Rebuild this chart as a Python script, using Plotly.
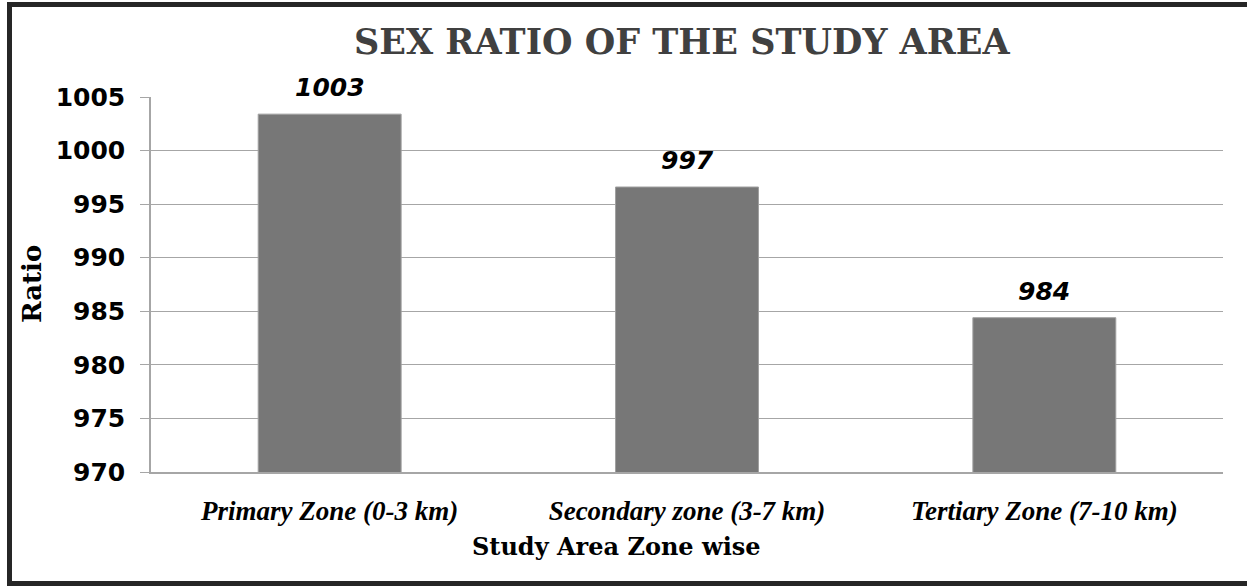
import plotly.graph_objects as go

# Sex ratio (females per 1000 males) by distance zone
zones = ["Primary Zone (0-3 km)", "Secondary zone (3-7 km)", "Tertiary Zone (7-10 km)"]
sex_ratio = [1003.4, 996.6, 984.4]
y_ticks = [970, 975, 980, 985, 990, 995, 1000, 1005]

W, H = 1247, 587
L, R, T, B = 151, 24, 97, 115
pw, ph = W - L - R, H - T - B


def px_x(x):
    return (x - L) / pw


def px_y(y):
    return (H - B - y) / ph


fig = go.Figure(
    go.Bar(
        x=zones,
        y=sex_ratio,
        width=0.4,
        marker=dict(color="#777777", line=dict(color="#a0a0a0", width=1)),
        hoverinfo="x+y",
    )
)

annotations = []
for z, v in zip(zones, sex_ratio):
    annotations.append(dict(
        x=z, y=v, xref="x", yref="y", text=f"{v:.0f}", showarrow=False,
        yanchor="bottom", yshift=10,
        font=dict(family="DejaVu Sans", size=25, color="#000000",
                  weight="bold", style="italic"),
    ))

annotations += [
    dict(text="SEX RATIO OF THE STUDY AREA", x=px_x(682), y=px_y(42),
         xref="paper", yref="paper", showarrow=False, xanchor="center", yanchor="middle",
         font=dict(family="DejaVu Serif", size=35, color="#404040", weight="bold")),
    dict(text="Study Area Zone wise", x=px_x(616), y=px_y(546),
         xref="paper", yref="paper", showarrow=False, xanchor="center", yanchor="middle",
         font=dict(family="DejaVu Serif", size=24, color="#000000", weight="bold")),
    dict(text="Ratio", x=px_x(32), y=px_y(284), textangle=-90,
         xref="paper", yref="paper", showarrow=False, xanchor="center", yanchor="middle",
         font=dict(family="DejaVu Serif", size=26, color="#000000", weight="bold")),
]

fig.update_layout(
    width=W, height=H,
    margin=dict(l=L, r=R, t=T, b=B),
    paper_bgcolor="white", plot_bgcolor="white",
    showlegend=False,
    annotations=annotations,
    shapes=[dict(
        type="rect", xref="paper", yref="paper",
        x0=px_x(9.5), x1=px_x(1265), y0=px_y(583.5), y1=px_y(4.5),
        line=dict(color="#262626", width=5), fillcolor="rgba(0,0,0,0)", layer="above",
    )],
)

fig.update_xaxes(
    showgrid=False, showline=True, linecolor="#a6a6a6", linewidth=1.5,
    ticks="", ticklabelstandoff=14,
    tickfont=dict(family="Liberation Serif", size=27, color="#000000",
                  weight="bold", style="italic"),
)
fig.update_yaxes(
    range=[970, 1005], tickvals=y_ticks,
    showgrid=True, gridcolor="#a6a6a6", gridwidth=1.2,
    showline=True, linecolor="#a6a6a6", linewidth=1.5,
    ticks="outside", ticklen=9, tickcolor="#a6a6a6", tickwidth=1.2,
    ticklabelstandoff=10,
    tickfont=dict(family="DejaVu Sans", size=25, color="#000000", weight="bold"),
    zeroline=False,
)

fig.write_html("out.html")
